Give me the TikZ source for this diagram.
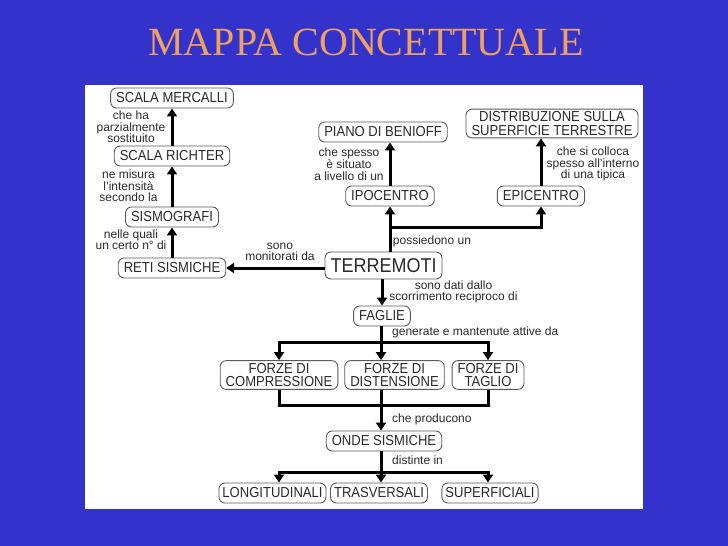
\documentclass[tikz,border=0pt]{standalone}
\usepackage{fontspec}
\setmainfont{Liberation Sans}
\newfontfamily\mapfont[FakeStretch=0.9]{Liberation Sans}
\newfontfamily\slidefont{Liberation Serif}
\usetikzlibrary{arrows.meta}
\definecolor{slideblue}{HTML}{3333CC}
\definecolor{slideorange}{HTML}{F0A060}
\definecolor{mapgray}{HTML}{5A5A5A}
\definecolor{maptext}{HTML}{2A2A2A}

\begin{document}
\begin{tikzpicture}[x=1pt, y=-1pt,
  box/.style={draw=mapgray, line width=0.9pt, rounded corners=6pt, fill=white, text=maptext, align=center,
              font=\mapfont\fontsize{14.5}{13.5}\selectfont, inner xsep=5.5pt, inner ysep=2.5pt, minimum height=20pt},
  bigbox/.style={box, font=\mapfont\fontsize{20}{20}\selectfont, minimum height=27pt},
  tightbox/.style={box, inner xsep=3.5pt},
  lab/.style={font=\fontsize{12}{11.3}\selectfont, text=maptext, align=center, inner sep=0pt},
  arr/.style={-{Triangle[width=10pt,length=8pt]}, line width=3pt},
  link/.style={line width=3pt},
]
\useasboundingbox (0,0) rectangle (728,546);
\fill[slideblue] (0,0) rectangle (728,546);
\fill[white] (85,85) rectangle (643,509);
\node[font=\slidefont\fontsize{40}{40}\selectfont, text=slideorange] (title) at (366,42) {MAPPA CONCETTUALE};

% concetti
\node[box]      (mercalli)  at (172,98)    {SCALA MERCALLI};
\node[box]      (richter)   at (172,156)   {SCALA RICHTER};
\node[box]      (sismo)     at (172,217)   {SISMOGRAFI};
\node[box]      (reti)      at (172,268)   {RETI SISMICHE};
\node[box]      (piano)     at (383,132)   {PIANO DI BENIOFF};
\node[box]      (ipo)       at (390,196)   {IPOCENTRO};
\node[box]      (distrib)   at (552,123.5) {DISTRIBUZIONE SULLA\\SUPERFICIE TERRESTRE};
\node[box]      (epi)       at (541,196)   {EPICENTRO};
\node[bigbox]   (terremoti) at (383.5,265.5) {TERREMOTI};
\node[box]      (faglie)    at (382,316)   {FAGLIE};
\node[box]      (comp)      at (279,375)   {FORZE DI\\COMPRESSIONE};
\node[box]      (dist)      at (394.5,375) {FORZE DI\\DISTENSIONE};
\node[box]      (tag)       at (488,375)   {FORZE DI\\TAGLIO};
\node[box]      (onde)      at (384,441)   {ONDE SISMICHE};
\node[tightbox] (long)      at (272.5,493) {LONGITUDINALI};
\node[tightbox] (tras)      at (379,493)   {TRASVERSALI};
\node[tightbox] (sup)       at (490,493)   {SUPERFICIALI};

\coordinate (split) at (390,227);
\coordinate (fork1) at (381,342);
\coordinate (join)  at (381,405);
\coordinate (fork2) at (381,472);

% collegamenti
\draw[arr] (reti) -- (sismo);
\draw[arr] (sismo) -- (richter);
\draw[arr] (richter) -- (mercalli);
\draw[arr] (terremoti.west |- reti) -- (reti.east);
\draw[arr] (terremoti.north -| ipo) -- (ipo.south);
\draw[arr] (ipo.north) -- (ipo.north |- piano.south);
\draw[arr] (split) -| (epi.south);
\draw[arr] (epi.north) -- (epi.north |- distrib.south);
\draw[arr] (terremoti.south -| faglie) -- (faglie.north);
\draw[link] (faglie.south -| fork1) -- (fork1);
\draw[arr] (fork1) -| (comp.north);
\draw[arr] (fork1) -- (fork1 |- dist.north);
\draw[arr] (fork1) -| (tag.north);
\draw[link] (comp.south) |- (join -| tag.south) -- (tag.south);
\draw[link] (join |- dist.south) -- (join);
\draw[arr] (join) -- (join |- onde.north);
\draw[link] (onde.south -| fork2) -- (fork2);
\draw[arr] (fork2) -| (comp |- long.north);
\draw[arr] (fork2) -- (fork2 |- tras.north);
\draw[arr] (fork2) -| (tag |- sup.north);

% etichette
\node[lab] (l1)  at (131,127)   {che ha\\parzialmente\\sostituito};
\node[lab] (l2)  at (128.5,186) {ne misura\\l'intensità\\secondo la};
\node[lab] (l3)  at (131,240)   {nelle quali\\un certo n° di};
\node[lab] (l4)  at (280,252)   {sono\\monitorati da};
\node[lab] (l5)  at (349,164)   {che spesso\\è situato\\a livello di un};
\node[lab] (l6)  at (593,164)   {che si colloca\\spesso all'interno\\di una tipica};
\node[lab] (l7)  at (432,241)   {possiedono un};
\node[lab] (l8)  at (453.5,292) {sono dati dallo\\scorrimento reciproco di};
\node[lab, anchor=west] (l9)  at (392,332) {generate e mantenute attive da};
\node[lab, anchor=west] (l10) at (392,419) {che producono};
\node[lab, anchor=west] (l11) at (392,460) {distinte in};
\end{tikzpicture}
\end{document}
